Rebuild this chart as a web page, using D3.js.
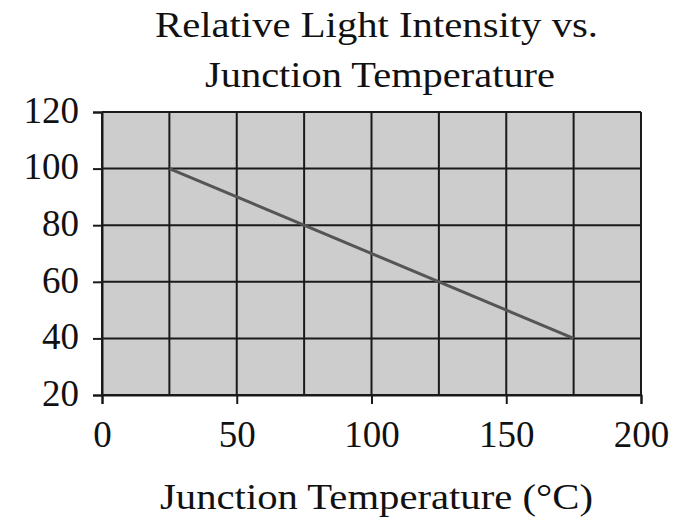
<!DOCTYPE html>
<html>
<head>
<meta charset="utf-8">
<script src="https://cdn.jsdelivr.net/npm/d3@7"></script>
<style>
  body { margin: 0; background: #fff; }
  text { font-family: "Liberation Serif", "Times New Roman", serif; fill: #111; }
</style>
</head>
<body>
<script>
// data
const temps = [25, 175];
const intensity = [100, 40];
const xTicks = [0, 50, 100, 150, 200];
const yTicks = [20, 40, 60, 80, 100, 120];
const xGrid = [0, 25, 50, 75, 100, 125, 150, 175, 200];

const width = 676, height = 522;
const plotLeft = 102, plotRight = 641, plotTop = 112, plotBottom = 395;

const svg = d3.select("body").append("svg")
    .attr("width", width)
    .attr("height", height);

const x = d3.scaleLinear().domain([0, 200]).range([plotLeft, plotRight]);
const y = d3.scaleLinear().domain([20, 120]).range([plotBottom, plotTop]);

// grey plot background
svg.append("rect")
    .attr("x", plotLeft).attr("y", plotTop)
    .attr("width", plotRight - plotLeft).attr("height", plotBottom - plotTop)
    .attr("fill", "#cdcdcd");

// grid
svg.append("g").selectAll("line").data(xGrid).enter().append("line")
    .attr("x1", d => x(d)).attr("x2", d => x(d))
    .attr("y1", plotTop).attr("y2", plotBottom)
    .attr("stroke", "#1a1a1a").attr("stroke-width", 2);

svg.append("g").selectAll("line").data(yTicks).enter().append("line")
    .attr("x1", plotLeft).attr("x2", plotRight)
    .attr("y1", d => y(d)).attr("y2", d => y(d))
    .attr("stroke", "#1a1a1a").attr("stroke-width", 2);

// axes
const xAxis = svg.append("g")
    .attr("transform", `translate(0,${plotBottom})`)
    .call(d3.axisBottom(x).tickValues(xTicks).tickSize(9).tickPadding(17));
const yAxis = svg.append("g")
    .attr("transform", `translate(${plotLeft},0)`)
    .call(d3.axisLeft(y).tickValues(yTicks).tickSize(9).tickPadding(14));

[xAxis, yAxis].forEach(a => {
    a.select(".domain").attr("stroke", "#1a1a1a").attr("stroke-width", 2);
    a.selectAll(".tick line").attr("stroke", "#1a1a1a").attr("stroke-width", 2);
    a.selectAll(".tick text")
        .attr("font-size", 37)
        .attr("font-family", "Liberation Serif, serif")
        .attr("fill", "#111");
});
yAxis.selectAll(".tick text").attr("dy", "0.28em");

// data line
const pts = temps.map((t, i) => [t, intensity[i]]);
svg.append("path")
    .datum(pts)
    .attr("fill", "none")
    .attr("stroke", "#555")
    .attr("stroke-width", 3)
    .attr("d", d3.line().x(d => x(d[0])).y(d => y(d[1])));

// titles (reference face runs wider than Times, so stretch to its width)
svg.append("text")
    .attr("x", 155).attr("y", 37)
    .attr("font-size", 35)
    .attr("textLength", 443)
    .attr("lengthAdjust", "spacingAndGlyphs")
    .text("Relative Light Intensity vs.");
svg.append("text")
    .attr("x", 205).attr("y", 87)
    .attr("font-size", 35)
    .attr("textLength", 350)
    .attr("lengthAdjust", "spacingAndGlyphs")
    .text("Junction Temperature");

svg.append("text")
    .attr("x", 160).attr("y", 509)
    .attr("font-size", 36)
    .attr("textLength", 433)
    .attr("lengthAdjust", "spacingAndGlyphs")
    .text("Junction Temperature (°C)");
</script>
</body>
</html>
